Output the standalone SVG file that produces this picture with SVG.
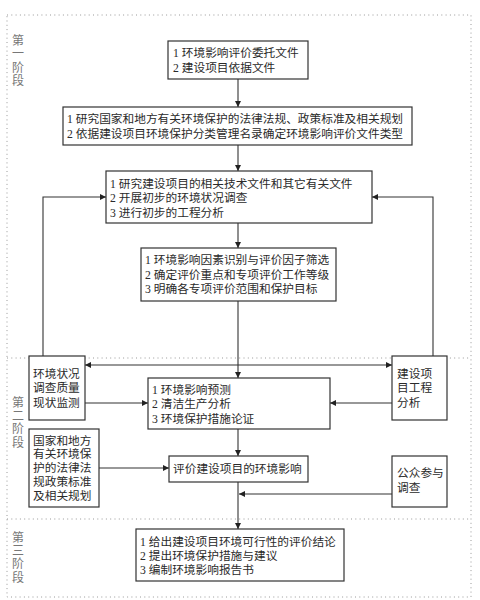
<svg xmlns="http://www.w3.org/2000/svg" width="480" height="600" viewBox="0 0 480 600">
<style>
.bg{fill:#fff}
.frame{fill:none;stroke:#999;stroke-width:1;stroke-dasharray:1 3.3}
.box{fill:#fff;stroke:#333;stroke-width:1.2}
.t{font-family:"Liberation Serif","Noto Sans CJK SC",serif;font-size:11.7px;fill:#2a2a2a}
.s{font-family:"Liberation Serif","Noto Sans CJK SC",serif;font-size:12px;fill:#777}
.c{fill:none;stroke:#333;stroke-width:1.1}
</style>
<defs>
<marker id="a" markerWidth="6" markerHeight="6" refX="6" refY="3" orient="auto-start-reverse" markerUnits="userSpaceOnUse">
<path d="M0,0 L6,3 L0,6 z" fill="#222"/>
</marker>
</defs>
<rect class="bg" x="0" y="0" width="480" height="600"/>
<g id="stages">
<rect class="frame" x="7" y="15" width="464" height="582"/>
<line class="frame" x1="7" y1="358" x2="471" y2="358"/>
<line class="frame" x1="7" y1="519" x2="471" y2="519"/>
<text class="s" x="12" y="44.5">第</text><text class="s" x="12" y="57.5">一</text><text class="s" x="12" y="71.5">阶</text><text class="s" x="12" y="84.5">段</text>
<text class="s" x="12" y="406.5">第</text><text class="s" x="12" y="419.5">二</text><text class="s" x="12" y="432.5">阶</text><text class="s" x="12" y="446.5">段</text>
<text class="s" x="12" y="541.5">第</text><text class="s" x="12" y="554.5">三</text><text class="s" x="12" y="567.5">阶</text><text class="s" x="12" y="581.5">段</text>
</g>
<g id="connectors">
<line class="c" x1="238" y1="79" x2="238" y2="107" marker-end="url(#a)"/>
<line class="c" x1="238" y1="145" x2="238" y2="171" marker-end="url(#a)"/>
<line class="c" x1="238" y1="223" x2="238" y2="248" marker-end="url(#a)"/>
<line class="c" x1="238" y1="301" x2="238" y2="378" marker-end="url(#a)"/>
<polyline class="c" points="43,356 43,197 106,197" marker-end="url(#a)"/>
<polyline class="c" points="433,356 433,197 372,197" marker-end="url(#a)"/>
<line class="c" x1="85" y1="365" x2="392" y2="365" marker-start="url(#a)" marker-end="url(#a)"/>
<line class="c" x1="85" y1="403" x2="148" y2="403" marker-end="url(#a)"/>
<line class="c" x1="392" y1="403" x2="330" y2="403" marker-end="url(#a)"/>
<line class="c" x1="238" y1="429" x2="238" y2="456" marker-end="url(#a)"/>
<line class="c" x1="99" y1="468" x2="169" y2="468" marker-end="url(#a)"/>
<line class="c" x1="238" y1="482" x2="238" y2="529" marker-end="url(#a)"/>
<line class="c" x1="392" y1="494" x2="239" y2="494" marker-end="url(#a)"/>
</g>
<g id="n1"><rect class="box" x="168" y="41" width="140" height="38"/>
<text class="t" x="173" y="56.5">1 环境影响评价委托文件</text>
<text class="t" x="173" y="71.5">2 建设项目依据文件</text></g>
<g id="n2"><rect class="box" x="63" y="107" width="349" height="38"/>
<text class="t" x="67" y="122.5">1 研究国家和地方有关环境保护的法律法规、政策标准及相关规划</text>
<text class="t" x="67" y="137.5">2 依据建设项目环境保护分类管理名录确定环境影响评价文件类型</text></g>
<g id="n3"><rect class="box" x="106" y="171" width="266" height="52"/>
<text class="t" x="110" y="187.5">1 研究建设项目的相关技术文件和其它有关文件</text>
<text class="t" x="110" y="202">2 开展初步的环境状况调查</text>
<text class="t" x="110" y="216.5">3 进行初步的工程分析</text></g>
<g id="n4"><rect class="box" x="141" y="248" width="195" height="53"/>
<text class="t" x="145" y="263.5">1 环境影响因素识别与评价因子筛选</text>
<text class="t" x="145" y="278.5">2 确定评价重点和专项评价工作等级</text>
<text class="t" x="145" y="293">3 明确各专项评价范围和保护目标</text></g>
<g id="n5"><rect class="box" x="29" y="356" width="56" height="64"/>
<text class="t" x="33" y="377.5">环境状况</text>
<text class="t" x="33" y="392">调查质量</text>
<text class="t" x="33" y="406.5">现状监测</text></g>
<g id="n6"><rect class="box" x="392" y="356" width="55" height="64"/>
<text class="t" x="397" y="377.5">建设项</text>
<text class="t" x="397" y="392">目工程</text>
<text class="t" x="397" y="406.5">分析</text></g>
<g id="n7"><rect class="box" x="148" y="378" width="182" height="51"/>
<text class="t" x="152" y="393.5">1 环境影响预测</text>
<text class="t" x="152" y="408">2 清洁生产分析</text>
<text class="t" x="152" y="422.5">3 环境保护措施论证</text></g>
<g id="n8"><rect class="box" x="29" y="429" width="70" height="78"/>
<text class="t" x="33" y="444.5">国家和地方</text>
<text class="t" x="33" y="458.3">有关环境保</text>
<text class="t" x="33" y="472.1">护的法律法</text>
<text class="t" x="33" y="485.9">规政策标准</text>
<text class="t" x="33" y="499.7">及相关规划</text></g>
<g id="n9"><rect class="box" x="169" y="456" width="139" height="26"/>
<text class="t" x="173" y="473.3">评价建设项目的环境影响</text></g>
<g id="n10"><rect class="box" x="392" y="456" width="55" height="51"/>
<text class="t" x="397" y="477.3">公众参与</text>
<text class="t" x="397" y="491.5">调查</text></g>
<g id="n11"><rect class="box" x="136" y="529" width="208" height="52"/>
<text class="t" x="140" y="545.5">1 给出建设项目环境可行性的评价结论</text>
<text class="t" x="140" y="559.5">2 提出环境保护措施与建议</text>
<text class="t" x="140" y="573.5">3 编制环境影响报告书</text></g>
</svg>
